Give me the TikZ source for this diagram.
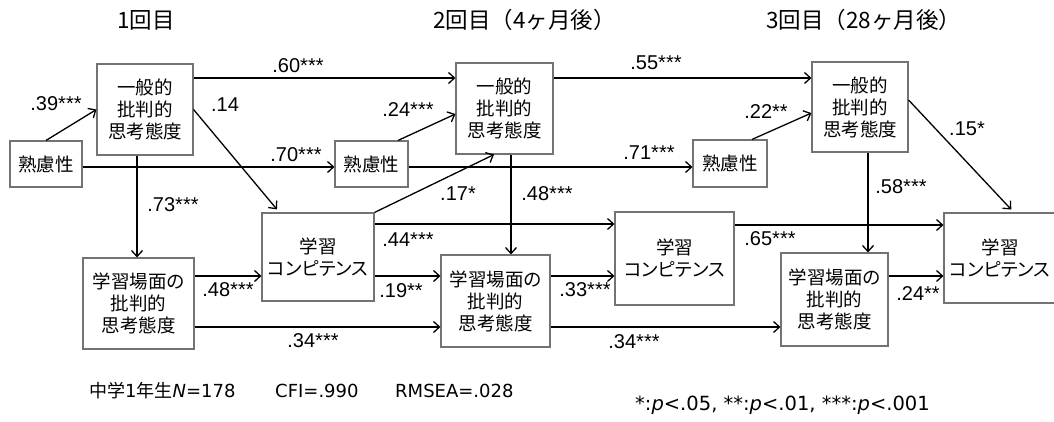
\documentclass[tikz,border=0pt]{standalone}
\usepackage{fontspec}
\setmainfont{Liberation Sans}
\newfontfamily\cjk[RawFeature=+palt]{Noto Sans CJK JP}
\newfontfamily\cjkw{Noto Sans CJK JP}
\newfontfamily\dvs{DejaVu Sans}
\usetikzlibrary{arrows.meta,calc}
\begin{document}
\begin{tikzpicture}[x=1pt,y=-1pt,
 box/.style={draw=black!55,line width=1.1pt,fill=white,inner sep=0pt,align=center,font=\cjk\fontsize{18.5}{22}\selectfont},
 arr/.style={line width=1.3pt,-{Straight Barb[length=6pt,width=11pt]}},
 lab/.style={font=\fontsize{20}{24}\selectfont,inner sep=0pt},
 hdr/.style={font=\cjkw\fontsize{22.5}{26}\selectfont,inner sep=0pt,anchor=west},
 foot/.style={font=\dvs\fontsize{18}{22}\selectfont,inner sep=0pt,anchor=west}]
\fill[white] (0,0) rectangle (1054,422);
\clip (0,0) rectangle (1054,422);

% headers
\node[hdr] (h1) at (117,20) {1回目};
\node[hdr] (h2) at (433,20) {2回目（4ヶ月後）};
\node[hdr] (h3) at (766,20) {3回目（28ヶ月後）};

% boxes
\node[box,minimum width=96pt,minimum height=91pt] (G1) at (145,109.5) {一般的\\批判的\\思考態度};
\node[box,minimum width=72pt,minimum height=46pt] (S1) at (46,164) {熟慮性};
\node[box,minimum width=111pt,minimum height=91pt] (L1) at (138.5,303.5) {学習場面の\\批判的\\思考態度};
\node[box,minimum width=112pt,minimum height=88pt] (C1) at (318,257) {学習\\コンピテンス};
\node[box,minimum width=97pt,minimum height=91pt] (G2) at (504.5,108.5) {一般的\\批判的\\思考態度};
\node[box,minimum width=73pt,minimum height=46pt] (S2) at (371.5,164) {熟慮性};
\node[box,minimum width=109pt,minimum height=92pt] (L2) at (495.5,301) {学習場面の\\批判的\\思考態度};
\node[box,minimum width=119pt,minimum height=93pt] (C2) at (674.5,258.5) {学習\\コンピテンス};
\node[box,minimum width=96pt,minimum height=90pt] (G3) at (860,107) {一般的\\批判的\\思考態度};
\node[box,minimum width=74pt,minimum height=47pt] (S3) at (730,163.5) {熟慮性};
\node[box,minimum width=107pt,minimum height=93pt] (L3) at (834.5,299.5) {学習場面の\\批判的\\思考態度};
\node[box,minimum width=112pt,minimum height=90pt] (C3) at (1000,258) {学習\\コンピテンス};

% arrows wave 1
\draw[arr] (S1.north) -- (G1.west);
\draw[arr] ([yshift=31.5pt]G1.east) -- ([yshift=31.5pt]G1.east -| G2.west);
\draw[arr,shorten >=4pt] (G1.east) -- ([xshift=-38.5pt]C1.north);
\draw[arr] ([yshift=-3pt]S1.east) -- ([yshift=-3pt]S1.east -| S2.west);
\draw[arr] ([xshift=-8pt]G1.south) -- ([xshift=-8pt]G1.south |- L1.north);
\draw[arr] ([yshift=27.5pt]L1.east) -- ([yshift=27.5pt]L1.east -| C1.west);
\draw[arr] ([yshift=-23.5pt]L1.east) -- ([yshift=-23.5pt]L1.east -| L2.west);
% wave 2
\draw[arr] ([yshift=33pt]C1.east) -- ([yshift=33pt]C1.east -| C2.west);
\draw[arr] ([yshift=-19pt]C1.east) -- ([yshift=-19pt]C1.east -| L2.west);
\draw[arr] (C1.north east) -- ([xshift=-10.5pt]G2.south);
\draw[arr] ([xshift=26.5pt]S2.north) -- ([yshift=-5.5pt]G2.west);
\draw[arr] ([yshift=30.5pt]G2.east) -- ([yshift=30.5pt]G2.east -| G3.west);
\draw[arr] ([yshift=-3pt]S2.east) -- ([yshift=-3pt]S2.east -| S3.west);
\draw[arr] ([xshift=6.5pt]G2.south) -- ([xshift=6.5pt]G2.south |- L2.north);
\draw[arr] ([yshift=25pt]L2.east) -- ([yshift=25pt]L2.east -| C2.west);
\draw[arr] ([yshift=-26pt]L2.east) -- ([yshift=-26pt]L2.east -| L3.west);
% wave 3
\draw[arr] ([yshift=33.5pt]C2.east) -- ([yshift=33.5pt]C2.east -| C3.west);
\draw[arr] ([xshift=22pt]S3.north) -- ([yshift=-6pt]G3.west);
\draw[arr,shorten >=4pt] ([yshift=7pt]G3.east) -- ([xshift=14pt]C3.north);
\draw[arr] ([xshift=8pt]G3.south) -- ([xshift=8pt]G3.south |- L3.north);
\draw[arr] ([yshift=23.5pt]L3.east) -- ([yshift=23.5pt]L3.east -| C3.west);

% labels
\node[lab] (a1) at (56,104) {.39***};
\node[lab] (a2) at (298,66) {.60***};
\node[lab] (a3) at (225,105) {.14};
\node[lab] (a4) at (296,155) {.70***};
\node[lab] (a5) at (173,205) {.73***};
\node[lab] (a6) at (228,290) {.48***};
\node[lab] (a7) at (313,341) {.34***};
\node[lab] (a8) at (408,240) {.44***};
\node[lab] (a9) at (401,291) {.19**};
\node[lab] (a10) at (458,194) {.17*};
\node[lab] (a11) at (408,110) {.24***};
\node[lab] (a12) at (656,63) {.55***};
\node[lab] (a13) at (649,153) {.71***};
\node[lab] (a14) at (547,194) {.48***};
\node[lab] (a15) at (585,290) {.33***};
\node[lab] (a16) at (634,342) {.34***};
\node[lab] (a17) at (770,239) {.65***};
\node[lab] (a18) at (766,112) {.22**};
\node[lab] (a19) at (967,129) {.15*};
\node[lab] (a20) at (901,187) {.58***};
\node[lab] (a21) at (918,294) {.24**};

% footer
\node[foot] (f1) at (89,391) {{\cjk 中学}1{\cjk 年生}\textit{N}=178};
\node[foot] (f2) at (275,391) {CFI=.990};
\node[foot] (f3) at (395,391) {RMSEA=.028};
\node[foot,font=\dvs\fontsize{19.5}{23}\selectfont] (f4) at (635,405) {*:\textit{p}<.05, **:\textit{p}<.01, ***:\textit{p}<.001};
\end{tikzpicture}
\end{document}
